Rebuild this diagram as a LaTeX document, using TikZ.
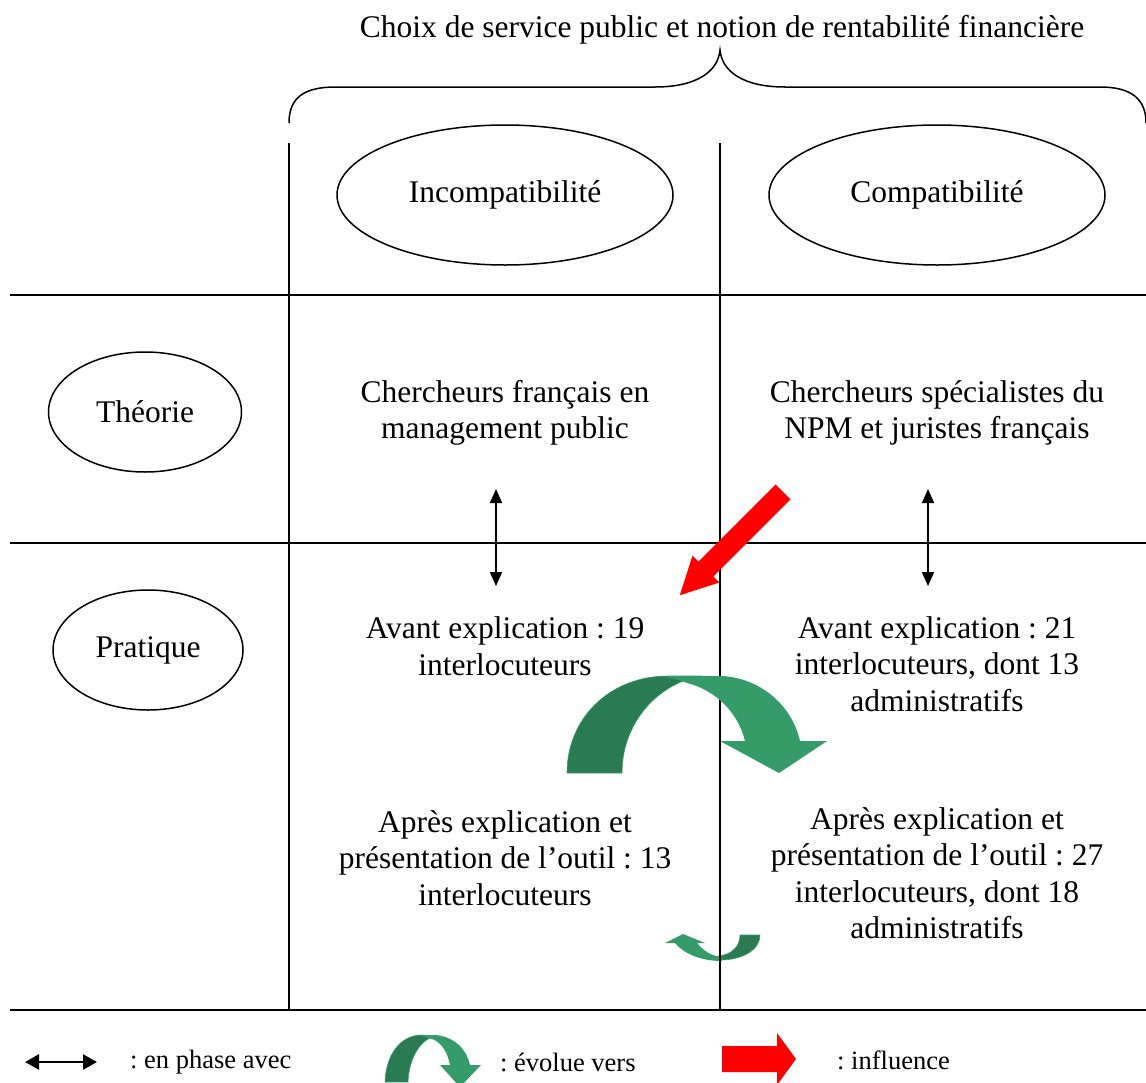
\documentclass[tikz,border=0pt]{standalone}
\usepackage{fontspec}
\setmainfont{Liberation Serif}
\frenchspacing
\usetikzlibrary{shapes.geometric,arrows.meta}
\definecolor{evdark}{HTML}{2B7B52}
\definecolor{evlight}{HTML}{359C69}
\definecolor{infl}{HTML}{FF0000}
\begin{document}
\begin{tikzpicture}[x=1pt,y=-1pt,
  grid/.style={line width=2pt},
  oval/.style={draw, ellipse, line width=1.5pt, inner sep=0pt},
  txt/.style={align=center, font=\fontsize{31.5}{36.5}\selectfont\frenchspacing, inner sep=0pt},
  leg/.style={anchor=west, font=\fontsize{26.5}{30}\selectfont\frenchspacing, inner sep=0pt},
  phase/.style={line width=1.5pt, {Triangle[length=14pt,width=12pt]}-{Triangle[length=14pt,width=12pt]}},
  backband/.style={fill=evdark, draw=evlight, line width=0.6pt},
  frontband/.style={fill=evlight},
  influ/.style={fill=infl}]
\useasboundingbox (0,0) rectangle (1146,1082);

% title and brace
\node[txt] (title) at (722,30) {Choix de service public et notion de rentabilité financière};
\draw[line width=1.5pt] (289,123) .. controls (289,96) and (306,87) .. (336,87) -- (655,87)
  .. controls (696,87) and (718,72) .. (720,50)
  .. controls (722,72) and (744,87) .. (785,87) -- (1100,87)
  .. controls (1130,87) and (1146,98) .. (1146,123);

% table grid
\draw[grid] (10,295) -- (1146,295);
\draw[grid] (10,543) -- (1146,543);
\draw[grid] (10,1010) -- (1146,1010);
\draw[grid] (289,143) -- (289,1010);

% column and row headers
\node[oval, minimum width=336pt, minimum height=140pt] (incomp) at (505,195) {};
\node[txt] at (incomp) {Incompatibilité};
\node[oval, minimum width=336pt, minimum height=140pt] (comp) at (937,195) {};
\node[txt] at (comp) {Compatibilité};
\node[oval, minimum width=193pt, minimum height=120pt] (theo) at (145,412) {};
\node[txt] at (theo) {Théorie};
\node[oval, minimum width=190pt, minimum height=120pt] (prat) at (148,650) {};
\node[txt] at (prat) {Pratique};

% cell contents
\node[txt] (thA) at (505,413) {Chercheurs français en\\management public};
\node[txt] (thB) at (937,413) {Chercheurs spécialistes du\\NPM et juristes français};
\node[txt] (avA) at (505,646) {Avant explication : 19\\interlocuteurs};
\node[txt] (avB) at (937,664) {Avant explication : 21\\interlocuteurs, dont 13\\administratifs};
\node[txt] (apA) at (505,858) {Après explication et\\présentation de l’outil : 13\\interlocuteurs};
\node[txt] (apB) at (937,873) {Après explication et\\présentation de l’outil : 27\\interlocuteurs, dont 18\\administratifs};

% theory <-> practice
\coordinate (phA1) at (496,489);
\coordinate (phA2) at (496,586);
\coordinate (phB1) at (928,489);
\coordinate (phB2) at (928,586);
\draw[phase] (phA1) -- (phA2);
\draw[phase] (phB1) -- (phB2);

% small evolution arrow (behind the column line)
\path[backband] (760,935) .. controls (760,950) and (742,960) .. (720,960) -- (718,956)
  .. controls (732,955) and (740,946) .. (740,935) -- cycle;
\path[frontband] (722,961) .. controls (700,961) and (683,953) .. (675,943) -- (665,943) -- (683,934)
  -- (705,943) -- (697,943) .. controls (703,950) and (710,956) .. (722,957) -- cycle;

% column separator
\draw[grid] (720,143) -- (720,1010);

% influence arrow
\path[influ] (775.6,484.6) -- (790.4,499.4) -- (713.3,576.5) -- (719.3,582.5) -- (679.8,595.2)
  -- (692.5,555.7) -- (698.5,561.7) -- cycle;

% large evolution arrow
\path[backband] (567,773) .. controls (567,718) and (610,676) .. (668,676) -- (700,676)
  .. controls (655,685) and (622,725) .. (622,773) -- cycle;
\path[frontband] (660,676) -- (722,676) .. controls (760,678) and (792,705) .. (800,741)
  -- (827,741) -- (779,773) -- (720,741) -- (745,741)
  .. controls (738,712) and (715,690) .. (687,683)
  .. controls (680,680) and (670,677) .. (660,676) -- cycle;

% legend
\coordinate (lgA1) at (25,1062);
\coordinate (lgA2) at (97,1062);
\draw[line width=2.5pt, {Triangle[length=14pt,width=15pt]}-{Triangle[length=14pt,width=15pt]}] (lgA1) -- (lgA2);
\node[leg] (lg1) at (130,1062) {: en phase avec};
\path[backband] (385,1082) .. controls (386,1055) and (400,1035) .. (422,1035) -- (434,1036)
  .. controls (418,1042) and (409,1060) .. (408,1082) -- cycle;
\path[frontband] (420,1035) -- (436,1035) .. controls (455,1037) and (467,1050) .. (470,1065)
  -- (481,1065) -- (460,1087) -- (440,1065) -- (450,1065)
  .. controls (447,1050) and (440,1040) .. (428,1038) -- cycle;
\node[leg] (lg2) at (500,1062) {: évolue vers};
\path[influ] (722,1046) -- (777,1046) -- (777,1033) -- (796,1059) -- (777,1085) -- (777,1072)
  -- (722,1072) -- cycle;
\node[leg] (lg3) at (837,1060) {: influence};
\end{tikzpicture}
\end{document}
